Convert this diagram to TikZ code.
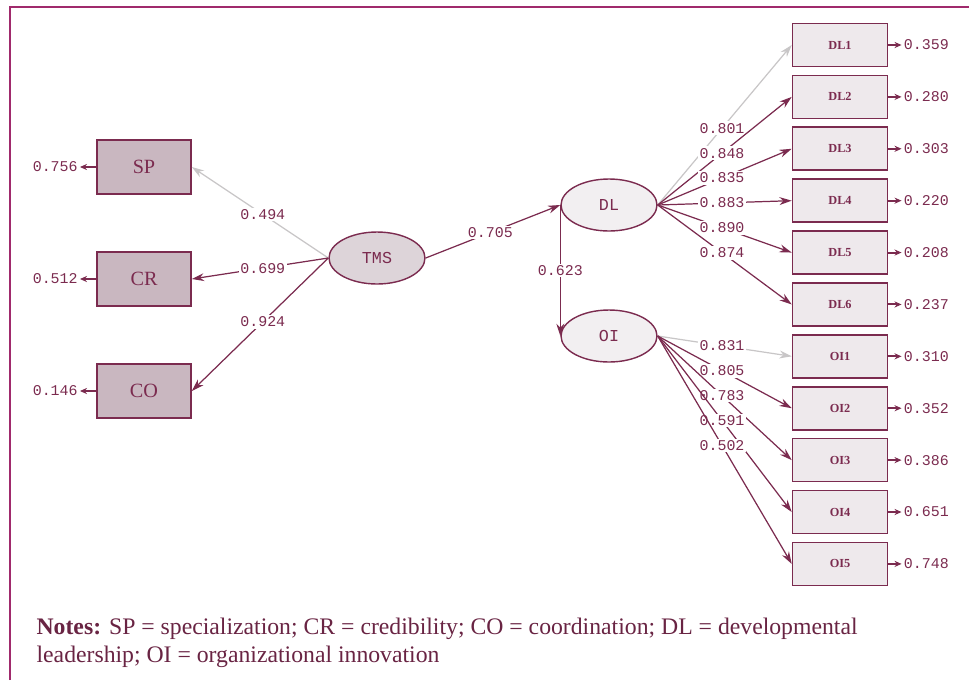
\documentclass[tikz,border=0pt]{standalone}
\usepackage{fontspec}
\setmainfont{Liberation Serif}
\setmonofont{Liberation Mono}
\usepackage{tikz}
\usetikzlibrary{arrows.meta,shapes,positioning}
\definecolor{maroon}{HTML}{7B2B4F}
\definecolor{framecol}{HTML}{A02A6C}
\definecolor{indfill}{HTML}{C9B7C0}
\definecolor{tmsfill}{HTML}{DDD4D9}
\definecolor{obsfill}{HTML}{EEE9EC}
\definecolor{latfill}{HTML}{F2EFF1}
\definecolor{lightline}{HTML}{C8C6C7}

\begin{document}
\begin{tikzpicture}[x=0.02cm,y=-0.02cm,->,>={Stealth[length=7pt,width=4.5pt]},
                    line width=0.7pt,color=maroon,node distance=1.038cm]
  \tikzstyle{ind}=[rectangle,draw,line width=0.9pt,fill=indfill,minimum width=1.88cm,
                   minimum height=1.08cm,inner sep=0pt,font=\fontsize{11.5}{12}\selectfont]
  \tikzstyle{obs}=[rectangle,draw,line width=0.9pt,fill=obsfill,minimum width=1.9cm,
                   minimum height=0.86cm,inner sep=0pt,font=\bfseries\fontsize{7}{8}\selectfont]
  \tikzstyle{lat}=[ellipse,draw,line width=0.8pt,minimum width=1.92cm,minimum height=1.04cm,
                   inner sep=0pt,font=\ttfamily\fontsize{9.5}{10}\selectfont]
  \tikzstyle{coef}=[fill=white,inner sep=1pt,pos=0.48,font=\ttfamily\fontsize{8.5}{9}\selectfont]
  \tikzstyle{err}=[inner sep=0pt,font=\ttfamily\fontsize{8.5}{9}\selectfont]
  \tikzstyle{errline}=[line width=1.1pt,shorten >=1pt,-{Stealth[length=4pt,width=3.5pt]}]
  \tikzstyle{light}=[draw=lightline]
  \tikzstyle{frame}=[-,draw=framecol,line width=1.6pt]

  \useasboundingbox (0,0) rectangle (969,680);
  \draw[frame] (10,680) -- (10,7) -- (969,7);

  % left side
  \node[ind]          (SP)  at (144,167)         {SP};
  \node[ind]          (CR)  at (144,279)         {CR};
  \node[ind]          (CO)  at (144,391)         {CO};
  \node[lat,fill=tmsfill] (TMS) at (377,258)     {TMS};

  % latent variables
  \node[lat,fill=latfill] (DL) at (609,205)      {DL};
  \node[lat,fill=latfill] (OI) at (609,336)      {OI};

  % indicators on the right
  \node[obs]          (DLa) at (840,45)          {DL1};
  \node[obs]          (DLb) [below of=DLa]       {DL2};
  \node[obs]          (DLc) [below of=DLb]       {DL3};
  \node[obs]          (DLd) [below of=DLc]       {DL4};
  \node[obs]          (DLe) [below of=DLd]       {DL5};
  \node[obs]          (DLf) [below of=DLe]       {DL6};
  \node[obs]          (OIa) [below of=DLf]       {OI1};
  \node[obs]          (OIb) [below of=OIa]       {OI2};
  \node[obs]          (OIc) [below of=OIb]       {OI3};
  \node[obs]          (OId) [below of=OIc]       {OI4};
  \node[obs]          (OIe) [below of=OId]       {OI5};

  % error terms
  \node[err] (eSP) [left=0.36cm of SP] {0.756};
  \node[err] (eCR) [left=0.36cm of CR] {0.512};
  \node[err] (eCO) [left=0.36cm of CO] {0.146};
  \node[err] (eDLa) [right=0.3cm of DLa] {0.359};
  \node[err] (eDLb) [right=0.3cm of DLb] {0.280};
  \node[err] (eDLc) [right=0.3cm of DLc] {0.303};
  \node[err] (eDLd) [right=0.3cm of DLd] {0.220};
  \node[err] (eDLe) [right=0.3cm of DLe] {0.208};
  \node[err] (eDLf) [right=0.3cm of DLf] {0.237};
  \node[err] (eOIa) [right=0.3cm of OIa] {0.310};
  \node[err] (eOIb) [right=0.3cm of OIb] {0.352};
  \node[err] (eOIc) [right=0.3cm of OIc] {0.386};
  \node[err] (eOId) [right=0.3cm of OId] {0.651};
  \node[err] (eOIe) [right=0.3cm of OIe] {0.748};

  \path (SP.west) edge[errline] (eSP)
        (CR.west) edge[errline] (eCR)
        (CO.west) edge[errline] (eCO)
        (DLa.east) edge[errline] (eDLa)
        (DLb.east) edge[errline] (eDLb)
        (DLc.east) edge[errline] (eDLc)
        (DLd.east) edge[errline] (eDLd)
        (DLe.east) edge[errline] (eDLe)
        (DLf.east) edge[errline] (eDLf)
        (OIa.east) edge[errline] (eOIa)
        (OIb.east) edge[errline] (eOIb)
        (OIc.east) edge[errline] (eOIc)
        (OId.east) edge[errline] (eOId)
        (OIe.east) edge[errline] (eOIe);

  \path (TMS.west) edge[light] node[coef] {0.494} (SP.east)
                   edge node[coef] {0.699} (CR.east)
                   edge node[coef] {0.924} (CO.east)
        (TMS.east) edge node[coef] {0.705} (DL.west)
        (DL.west)  edge node[coef,pos=0.5] {0.623} (OI.west);

  \path (DL.east) edge[light] node[coef] {0.801} (DLa.west)
                  edge node[coef] {0.848} (DLb.west)
                  edge node[coef] {0.835} (DLc.west)
                  edge node[coef] {0.883} (DLd.west)
                  edge node[coef] {0.890} (DLe.west)
                  edge node[coef] {0.874} (DLf.west)
        (OI.east) edge[light] node[coef] {0.831} (OIa.west)
                  edge node[coef] {0.805} (OIb.west)
                  edge node[coef] {0.783} (OIc.west)
                  edge node[coef] {0.591} (OId.west)
                  edge node[coef] {0.502} (OIe.west);

  \node[anchor=north west,align=left,inner sep=0pt,text=maroon!85!black,
        font=\fontsize{13.5}{15.9}\selectfont] (NOTES) at (36,617)
    {\textbf{Notes:} SP = specialization; CR = credibility; CO = coordination; DL = developmental\\
     leadership; OI = organizational innovation};
\end{tikzpicture}
\end{document}
